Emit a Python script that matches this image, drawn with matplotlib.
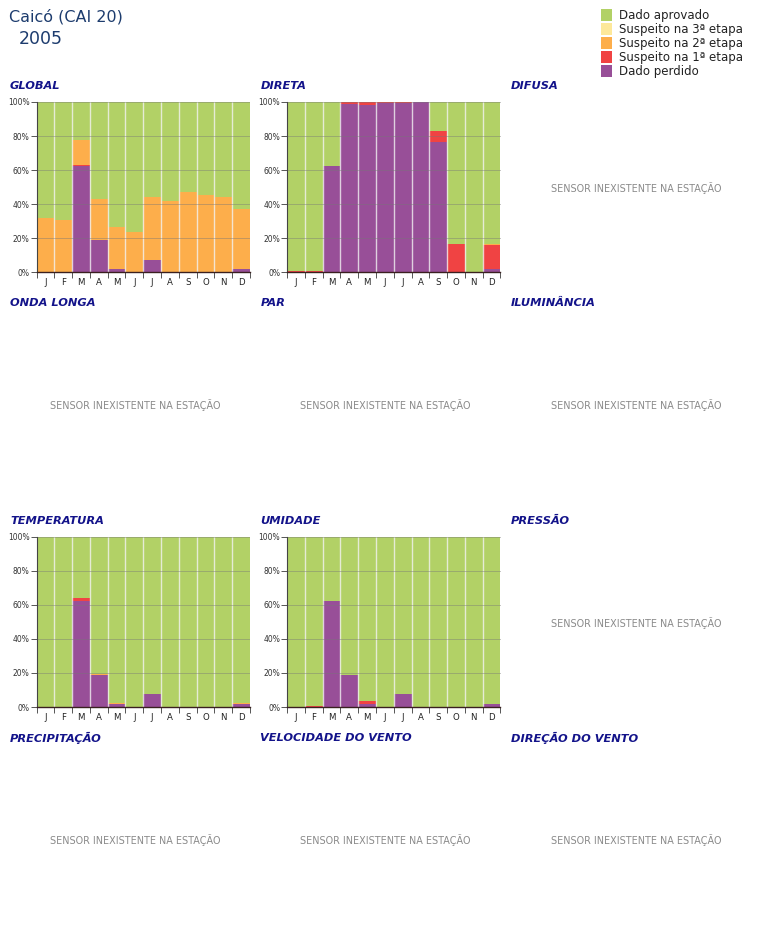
import matplotlib
matplotlib.use("Agg")
import matplotlib.pyplot as plt
import numpy as np

months = ["J", "F", "M", "A", "M", "J", "J", "A", "S", "O", "N", "D"]
categories = ["Dado aprovado", "Suspeito na 3ª etapa", "Suspeito na 2ª etapa",
              "Suspeito na 1ª etapa", "Dado perdido"]
colors = {"Dado aprovado": "#b2d166", "Suspeito na 3ª etapa": "#fde89a",
          "Suspeito na 2ª etapa": "#fdae4b", "Suspeito na 1ª etapa": "#f04343",
          "Dado perdido": "#984f98"}

panel_titles = ["GLOBAL", "DIRETA", "DIFUSA", "ONDA LONGA", "PAR", "ILUMINÂNCIA",
                "TEMPERATURA", "UMIDADE", "PRESSÃO", "PRECIPITAÇÃO",
                "VELOCIDADE DO VENTO", "DIREÇÃO DO VENTO"]

# percentages per month; stacked bottom->top: perdido, 1a, 2a, 3a, (aprovado = rest)
global_perdido = [0, 0, 62.5, 19, 2, 0, 7.5, 0.3, 0, 0, 0, 2]
global_1a      = [0, 0.5, 0.3, 0, 0, 0, 0, 0, 0.5, 0, 0, 0]
global_2a      = [32, 30.5, 15.2, 24, 24.5, 24, 36.5, 41.7, 47, 45.5, 44, 35]
global_3a      = [0, 0, 0, 0, 0, 0, 0, 0, 0, 0, 0, 0]

direta_perdido = [0, 0, 62.5, 99, 98, 99.5, 99.7, 100, 76.5, 0, 0, 2]
direta_1a      = [1, 1, 0, 1, 2, 0.5, 0.3, 0, 6.5, 16.5, 0, 14]
direta_2a      = [0, 0, 0, 0, 0, 0, 0, 0, 0, 0, 0, 1]
direta_3a      = [0, 0, 0, 0, 0, 0, 0, 0, 0, 0, 0, 0]

temp_perdido = [0, 0, 62.5, 19, 2, 0, 7.5, 0.3, 0, 0, 0, 2]
temp_1a      = [0, 0.3, 1.5, 0, 0, 0, 0, 0, 0, 0, 0, 0]
temp_2a      = [0, 0, 0, 0.5, 0.5, 0, 0, 0, 0, 0, 0, 0.5]
temp_3a      = [0, 0, 0, 0, 0, 0, 0, 0, 0, 0, 0, 0]

umid_perdido = [0, 0, 62.5, 19, 2, 0, 7.5, 0.3, 0, 0, 0, 2]
umid_1a      = [0, 0.7, 0, 0, 1.3, 0, 0, 0, 0, 0, 0, 0]
umid_2a      = [0, 0, 0, 0, 0, 0, 0, 0, 0, 0, 0, 0]
umid_3a      = [0, 0, 0, 0, 0, 0, 0, 0, 0, 0, 0, 0]

panel_data = {
    "GLOBAL": (global_perdido, global_1a, global_2a, global_3a),
    "DIRETA": (direta_perdido, direta_1a, direta_2a, direta_3a),
    "TEMPERATURA": (temp_perdido, temp_1a, temp_2a, temp_3a),
    "UMIDADE": (umid_perdido, umid_1a, umid_2a, umid_3a),
}

W, H = 760, 949
fig = plt.figure(figsize=(W / 100, H / 100), dpi=100)

def fx(px):
    return px / W

def fy(py):
    return 1 - py / H

title_color = "#13138a"
col_x = [0, 250.5, 501]
row_y = [0, 217.3, 434.6, 651.9]

fig.text(fx(9), fy(17), "Caicó (CAI 20)", fontsize=11.5, color="#1d3c6e",
         va="center", ha="left")
fig.text(fx(19), fy(39), "2005", fontsize=12.5, color="#1d3c6e",
         va="center", ha="left")

# legend
for i, cat in enumerate(categories):
    yc = 15 + i * 14.1
    fig.patches.append(plt.Rectangle((fx(601), fy(yc + 6)), fx(11), 12 / H,
                                     transform=fig.transFigure,
                                     facecolor=colors[cat], edgecolor="none"))
    fig.text(fx(619), fy(yc), cat, fontsize=8.5, color="#222222",
             va="center", ha="left")

for idx, name in enumerate(panel_titles):
    r, c = divmod(idx, 3)
    ox, oy = col_x[c], row_y[r]
    fig.text(fx(ox + 10), fy(oy + 86), name, fontsize=8.2, fontweight="bold",
             style="italic", color=title_color, va="center", ha="left")
    if name not in panel_data:
        fig.text(fx(ox + 135), fy(oy + 188), "SENSOR INEXISTENTE NA ESTAÇÃO",
                 fontsize=6.9, color="#8a8a8a", va="center", ha="center")
        continue
    left, right, top, bottom = ox + 36.5, ox + 250, oy + 102, oy + 272.5
    ax = fig.add_axes([fx(left), fy(bottom), fx(right - left), (bottom - top) / H])
    perd, s1, s2, s3 = [np.array(a, dtype=float) for a in panel_data[name]]
    aprov = 100 - perd - s1 - s2 - s3
    x = np.arange(len(months))
    base = np.zeros(len(months))
    for vals, cat in [(perd, "Dado perdido"), (s1, "Suspeito na 1ª etapa"),
                      (s2, "Suspeito na 2ª etapa"), (s3, "Suspeito na 3ª etapa"),
                      (aprov, "Dado aprovado")]:
        ax.bar(x, vals, bottom=base, width=1.0, color=colors[cat],
               edgecolor="none", linewidth=0, zorder=1)
        base = base + vals
    # separators between months
    for b in x[1:] - 0.5:
        ax.axvline(b, color="#f2f2f2", lw=1.0, alpha=0.8, zorder=2)
    ax.set_xlim(-0.5, len(months) - 0.5)
    ax.set_ylim(0, 100)
    ax.set_yticks(np.arange(0, 101, 20))
    ax.set_yticklabels([f"{v}%" for v in range(0, 101, 20)], fontsize=5.5,
                       color="#333333")
    ax.set_xticks(x)
    ax.set_xticklabels(months, fontsize=6.2, color="#222222")
    ax.set_xticks(np.arange(-0.5, len(months)), minor=True)
    ax.tick_params(axis="x", which="major", length=0, pad=4)
    ax.tick_params(axis="x", which="minor", length=4, width=0.7, color="#555555")
    ax.tick_params(axis="y", length=4, width=0.7, color="#555555", pad=1)
    for yv in range(20, 101, 20):
        ax.axhline(yv, color="#777777", lw=0.6, alpha=0.5, zorder=3)
    for s in ["top", "right"]:
        ax.spines[s].set_visible(False)
    ax.spines["left"].set_color("#444444")
    ax.spines["left"].set_linewidth(0.8)
    ax.spines["bottom"].set_color("#3a2020")
    ax.spines["bottom"].set_linewidth(1.0)
    ax.spines["left"].set_zorder(4)
    ax.spines["bottom"].set_zorder(4)

fig.savefig("out.png", dpi=100)
